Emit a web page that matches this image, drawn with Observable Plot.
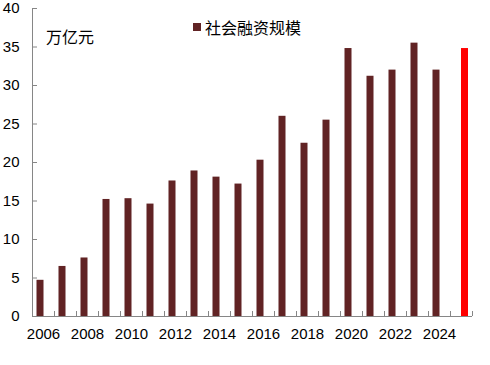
<!DOCTYPE html>
<html>
<head>
<meta charset="utf-8">
<script src="https://cdn.jsdelivr.net/npm/d3@7"></script>
<script src="https://cdn.jsdelivr.net/npm/@observablehq/plot@0.6"></script>
<style>
  body { margin: 0; background: #fff; }
  #wrap { position: relative; width: 490px; height: 365px; }
  .ov { position: absolute; font-family: "Noto Sans CJK SC", sans-serif; font-size: 16px; line-height: 16px; color: #000; white-space: nowrap; }
  #unit { left: 46px; top: 28px; }
  #legend { left: 193px; top: 19px; display: flex; align-items: center; }
  #legend .sw { width: 8px; height: 8px; background: #612324; margin-right: 4px; }
</style>
</head>
<body>
<div id="wrap">
  <div id="chart"></div>
  <div class="ov" id="unit">万亿元</div>
  <div class="ov" id="legend"><span class="sw"></span><span>社会融资规模</span></div>
</div>
<script>
const years = [2006, 2007, 2008, 2009, 2010, 2011, 2012, 2013, 2014, 2015,
               2016, 2017, 2018, 2019, 2020, 2021, 2022, 2023, 2024, 2025];
const values = [4.7, 6.5, 7.6, 15.2, 15.3, 14.6, 17.6, 18.9, 18.1, 17.2,
                20.3, 26.0, 22.5, 25.5, 34.8, 31.2, 32.0, 35.5, 32.0, 34.8];
const highlightYears = [2025];
const yTicks = [0, 5, 10, 15, 20, 25, 30, 35, 40];
const xLabelYears = [2006, 2008, 2010, 2012, 2014, 2016, 2018, 2020, 2022, 2024];
const seriesName = "社会融资规模";

const data = years.map((year, i) => ({year, value: values[i], hi: highlightYears.includes(year)}));
const boundaries = [years[0] - 0.5, ...years.map(y => y + 0.5)];
const darkColor = "#612324";
const redColor = "#ff0000";
const axisColor = "#868686";

const chart = Plot.plot({
  width: 490,
  height: 365,
  marginLeft: 32,
  marginRight: 18,
  marginTop: 8,
  marginBottom: 49,
  style: { fontFamily: "'Liberation Sans', Arial, sans-serif", fontSize: "15px", color: "#000", background: "#fff" },
  x: { type: "linear", domain: [years[0] - 0.5, years[years.length - 1] + 0.5] },
  y: { domain: [0, 40] },
  marks: [
    Plot.rectY(data.filter(d => !d.hi), {
      x1: d => d.year - 0.5, x2: d => d.year + 0.5, y: "value",
      fill: darkColor, insetLeft: 4.5, insetRight: 10.5, title: d => `${seriesName} ${d.year}: ${d.value}`
    }),
    Plot.rectY(data.filter(d => d.hi), {
      x1: d => d.year - 0.5, x2: d => d.year + 0.5, y: "value",
      fill: redColor, insetLeft: 11, insetRight: 4
    }),
    Plot.ruleX([boundaries[0]], { stroke: axisColor }),
    Plot.ruleY([0], { stroke: axisColor }),
    Plot.axisY(yTicks, { tickSize: 0, tickPadding: 13, label: null, fill: "#000" }),
    Plot.axisY(yTicks, { tickSize: -5, tickFormat: () => "", label: null, stroke: axisColor }),
    Plot.axisX(boundaries, { tickSize: -5, tickFormat: () => "", label: null, stroke: axisColor }),
    Plot.axisX(xLabelYears, { tickSize: 0, tickPadding: 12, tickFormat: d => String(d), label: null, fill: "#000" })
  ]
});
document.getElementById("chart").appendChild(chart);
</script>
</body>
</html>
